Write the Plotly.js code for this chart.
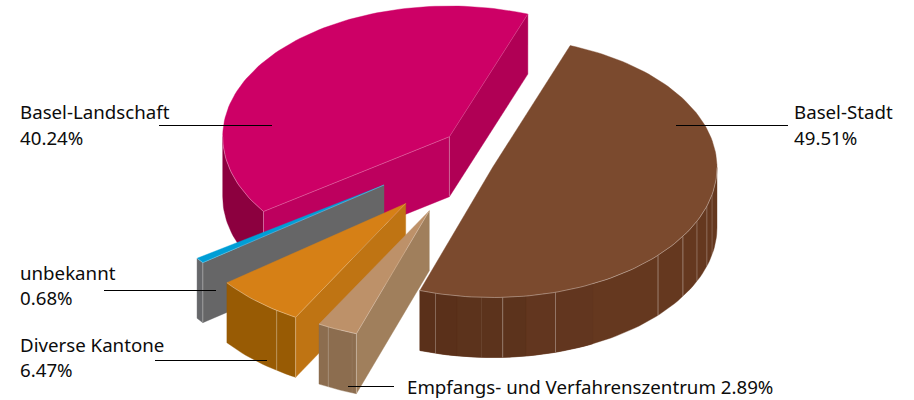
<!DOCTYPE html>
<html>
<head>
<meta charset="utf-8">
<script src="https://cdn.plot.ly/plotly-3.0.1.min.js"></script>
<style>html,body{margin:0;padding:0;background:#fff}#chart{width:914px;height:400px}</style>
</head>
<body>
<div id="chart"></div>
<script>
// ---- data ----
const categories = ['Basel-Stadt', 'Empfangs- und Verfahrenszentrum', 'Diverse Kantone', 'unbekannt', 'Basel-Landschaft'];
const shares = [49.51, 2.89, 6.47, 0.68, 40.24];

// ---- drawing style and layout ----
const START_ANGLE = 20.25, DEPTH = 60;
const total = shares.reduce((a, b) => a + b, 0);
const looks = {
  'Basel-Stadt':      {c:[492.5,167.5], r:[224.5,130], top:'#7b4a2e', wall:'#65381f', face:null,
                       bands:[[198.9,189,'#5a301a'],[189,171.3,'#5c331c'],[171.3,153.5,'#62361f']],
                       ticks:[[194.7,.35],[182.8,.1],[177.4,.45],[163.7,.4],[132.5,.45],[122,.45],[114.4,.35],[107.3,.35],[102,.25]]},
  'Empfangs- und Verfahrenszentrum': {c:[429.3,210.7], r:[225.5,130], top:'#bd9169', wall:'#8c6d4f', face:'#a07f5c',
                       bands:[], ticks:[[206.6,.3],[200,.08]]},
  'Diverse Kantone':  {c:[405.7,203.5], r:[225,130.5], top:'#d68016', wall:'#985b04', face:'#bf7413',
                       bands:[], ticks:[[215,.45]]},
  'unbekannt':        {c:[384,185], r:[228,128], top:'#009ed6', wall:'#66676a', face:'#666667',
                       bands:[], ticks:[]},
  'Basel-Landschaft': {c:[449.4,136.7], r:[226.7,130.7], top:'#cd0066', wall:'#8c003f', face:'#b00055', face2:'#bd005e',
                       bands:[], ticks:[]}
};
const leaders = {
  'Basel-Landschaft': [[159,272],125.5],
  'Basel-Stadt':      [[676,788],125.5],
  'unbekannt':        [[104,216],290.5],
  'Diverse Kantone':  [[155,267],360.5],
  'Empfangs- und Verfahrenszentrum': [[348,394],386.5]
};
const labelPos = {
  'Basel-Landschaft': [18,111,137.5],
  'Basel-Stadt':      [792,111,137.5],
  'unbekannt':        [18,272,297.5],
  'Diverse Kantone':  [18,344,369.5],
  'Empfangs- und Verfahrenszentrum': [404.5,386,null]
};
const drawOrder = ['Basel-Landschaft','unbekannt','Diverse Kantone','Empfangs- und Verfahrenszentrum','Basel-Stadt'];

// ---- turn the shares into angular spans ----
const spans = {};
let a0 = START_ANGLE;
categories.forEach((name, i) => {
  const a1 = a0 + shares[i] / total * 360;
  spans[name] = [a0, a1];
  a0 = a1;
});

const rad = d => d * Math.PI / 180;
const pt = (s, deg, dz = 0) => [s.c[0] + s.r[0] * Math.sin(rad(deg)), s.c[1] - s.r[1] * Math.cos(rad(deg)) + dz];
function arc(s, from, to, dz = 0) {
  const n = Math.max(2, Math.ceil(Math.abs(to - from) / 1.5));
  const out = [];
  for (let i = 0; i <= n; i++) out.push(pt(s, from + (to - from) * i / n, dz));
  return out;
}
const traces = [];
function poly(points, fill, name) {
  traces.push({type:'scatter', mode:'lines', x:points.map(p=>p[0]).concat(points[0][0]), y:points.map(p=>p[1]).concat(points[0][1]),
    fill:'toself', fillcolor:fill, line:{color:fill, width:0.4}, hoverinfo:'skip', showlegend:false, name});
}
function stroke(points, color, width, name) {
  traces.push({type:'scatter', mode:'lines', x:points.map(p=>p[0]), y:points.map(p=>p[1]),
    line:{color, width}, hoverinfo:'skip', showlegend:false, name});
}
function wallBetween(s, from, to, fill, name) {
  poly(arc(s, from, to).concat(arc(s, to, from, DEPTH)), fill, name);
}
const EDGE = 'rgba(255,255,255,0.42)';

drawOrder.forEach(name => {
  const s = looks[name], [a, b] = spans[name];
  const lo = Math.max(a, 90), hi = Math.min(b, 270);
  // outer wall
  if (hi > lo) {
    wallBetween(s, lo, hi, s.wall, name);
    s.bands.forEach(([f, t, col]) => wallBetween(s, Math.max(t, lo), Math.min(f, hi), col, name));
    s.ticks.forEach(([deg, op]) => stroke([pt(s, deg), pt(s, deg, DEPTH)], `rgba(255,255,255,${op})`, 0.8, name));
  }
  // cut faces
  const apex = s.c, apexLow = [s.c[0], s.c[1] + DEPTH];
  const p = pt(s, a), q = pt(s, b);
  if (s.face2) {
    poly([apex, p, [p[0], p[1] + DEPTH], apexLow], s.face2, name);
    poly([apex, q, [q[0], q[1] + DEPTH], apexLow], s.face, name);
    stroke([apex, apexLow], EDGE, 0.8, name);
    stroke([p, [p[0], p[1] + DEPTH]], EDGE, 0.8, name);
  } else if (s.face) {
    poly([apex, p, [p[0], p[1] + DEPTH], apexLow], s.face, name);
    stroke([p, [p[0], p[1] + DEPTH]], EDGE, 0.8, name);
  }
  // top surface
  poly([apex].concat(arc(s, a, b)), s.top, name);
  if (hi > lo) stroke(arc(s, lo, hi), EDGE, 0.8, name);
  if (s.face || s.face2) stroke([apex, p], EDGE, 0.6, name);
  if (s.face2) stroke([apex, q], 'rgba(255,255,255,0.25)', 0.6, name);
});

// leader lines
categories.forEach(name => {
  const [xs, y] = leaders[name];
  traces.push({type:'scatter', mode:'lines', x:xs, y:[y, y], line:{color:'#000', width:1.1}, hoverinfo:'skip', showlegend:false, name});
});

// labels
const font = {family:'"Noto Sans", "Open Sans", sans-serif', size:18.7, color:'#0c0c0c'};
const annotations = [];
categories.forEach((name, i) => {
  const [x, y1, y2] = labelPos[name];
  const pct = shares[i].toFixed(2) + '%';
  const base = {xref:'x', yref:'y', showarrow:false, xanchor:'left', yanchor:'middle', font, x};
  if (y2 === null) annotations.push({...base, y:y1, text:name + ' ' + pct});
  else {
    annotations.push({...base, y:y1, text:name});
    annotations.push({...base, y:y2, text:pct});
  }
});

Plotly.newPlot('chart', traces, {
  width:914, height:400, margin:{l:0, r:0, t:0, b:0},
  paper_bgcolor:'#fff', plot_bgcolor:'#fff', showlegend:false,
  xaxis:{range:[0,914], visible:false, fixedrange:true},
  yaxis:{range:[400,0], visible:false, fixedrange:true},
  annotations
}, {displayModeBar:false, staticPlot:true});
</script>
</body>
</html>
